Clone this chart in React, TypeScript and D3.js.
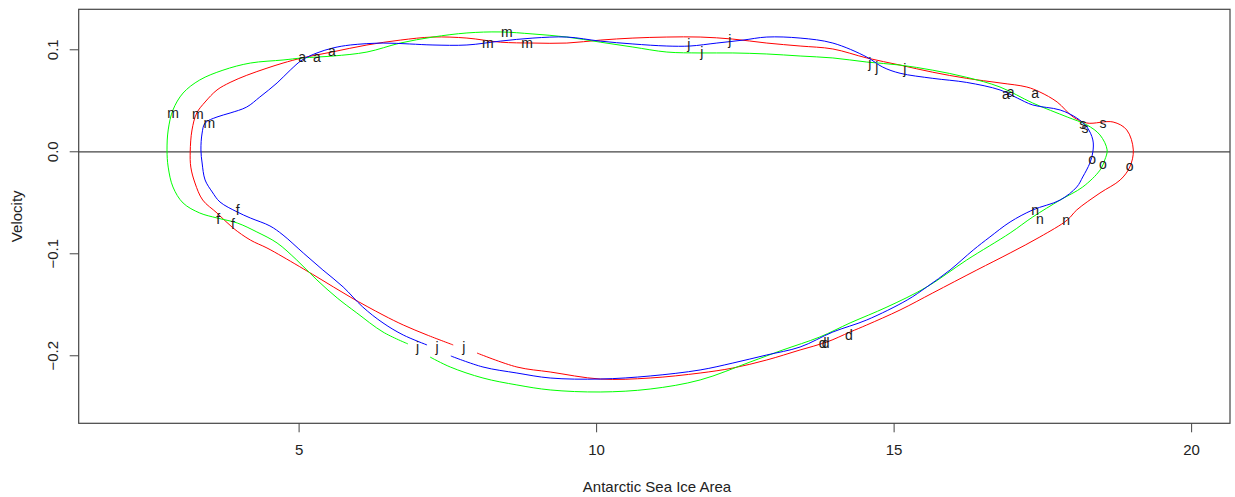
import React from "react";
import * as d3 from "d3";

const months = ["j", "f", "m", "a", "m", "j", "j", "a", "s", "o", "n", "d"];

const xTicks = [5, 10, 15, 20];
const yTicks = [-0.2, -0.1, 0.0, 0.1];

const redArea = [7.59, 7.15, 6.75, 6.41, 5.86, 5.30, 4.73, 4.46, 4.18, 3.89, 3.62, 3.38, 3.25, 3.18, 3.17, 3.20, 3.28, 3.42, 3.62, 3.84, 4.12, 4.46, 4.73, 5.05, 5.55, 6.14, 6.70, 7.25, 7.82, 8.38, 8.93, 9.50, 10.06, 10.61, 11.18, 11.74, 12.29, 12.86, 13.42, 13.97, 14.54, 15.10, 15.65, 16.22, 16.78, 17.23, 17.45, 17.74, 18.01, 18.24, 18.68, 18.91, 19.02, 18.96, 18.80, 18.46, 18.07, 17.91, 17.45, 16.95, 16.39, 15.65, 15.10, 14.54, 14.26, 13.87, 13.42, 12.86, 12.29, 11.74, 10.90, 10.06, 9.22, 8.66, 7.99];
const redVel = [-0.1894, -0.1796, -0.1698, -0.160, -0.1424, -0.1227, -0.1031, -0.0943, -0.0865, -0.0747, -0.060, -0.0473, -0.0306, -0.015, 0.0, 0.0214, 0.038, 0.0488, 0.0606, 0.068, 0.075, 0.082, 0.087, 0.092, 0.0978, 0.1047, 0.1095, 0.1125, 0.1115, 0.1075, 0.1066, 0.1066, 0.1095, 0.1115, 0.1125, 0.1125, 0.1105, 0.1066, 0.1037, 0.1008, 0.092, 0.085, 0.078, 0.072, 0.0675, 0.0635, 0.0586, 0.0488, 0.0341, 0.0282, 0.0292, 0.0214, 0.0018, -0.015, -0.0276, -0.0404, -0.057, -0.0669, -0.0835, -0.0992, -0.1159, -0.1384, -0.1551, -0.1698, -0.1767, -0.1865, -0.1943, -0.2041, -0.2120, -0.2169, -0.2218, -0.2228, -0.2159, -0.2110, -0.1973];

const greenArea = [6.83, 6.41, 5.97, 5.64, 5.30, 4.96, 4.63, 4.29, 3.96, 3.62, 3.33, 3.05, 2.88, 2.80, 2.78, 2.80, 2.88, 3.05, 3.33, 3.72, 4.18, 4.73, 5.05, 5.57, 6.14, 6.70, 7.25, 7.82, 8.38, 8.93, 9.50, 10.06, 10.61, 11.18, 11.74, 12.29, 12.86, 13.42, 13.97, 14.54, 15.10, 15.65, 16.22, 16.78, 17.33, 17.91, 18.24, 18.46, 18.58, 18.54, 18.46, 18.17, 17.79, 17.33, 16.95, 16.22, 15.55, 14.88, 14.26, 13.75, 13.13, 12.58, 11.74, 10.90, 10.06, 9.22, 8.66, 8.09, 7.54, 7.20];
const greenVel = [-0.1884, -0.1767, -0.158, -0.1433, -0.1257, -0.1061, -0.0894, -0.0786, -0.0698, -0.0649, -0.060, -0.0502, -0.0345, -0.015, 0.0018, 0.0214, 0.041, 0.0576, 0.0704, 0.080, 0.087, 0.090, 0.092, 0.0939, 0.0978, 0.1066, 0.1125, 0.1165, 0.1175, 0.1155, 0.1125, 0.1075, 0.1027, 0.0978, 0.0969, 0.0969, 0.0959, 0.0939, 0.092, 0.088, 0.085, 0.080, 0.073, 0.0635, 0.0478, 0.0341, 0.0263, 0.0165, 0.0018, -0.008, -0.018, -0.0345, -0.0473, -0.0639, -0.0796, -0.1061, -0.1325, -0.1522, -0.1678, -0.1816, -0.1943, -0.2061, -0.2237, -0.2326, -0.2355, -0.2335, -0.2286, -0.2218, -0.2110, -0.2012];

const blueArea = [7.15, 6.75, 6.41, 6.07, 5.74, 5.40, 5.07, 4.73, 4.51, 4.18, 3.96, 3.67, 3.54, 3.42, 3.37, 3.35, 3.37, 3.42, 3.62, 3.84, 4.12, 4.34, 4.63, 4.85, 5.05, 5.30, 5.57, 5.86, 6.41, 6.86, 7.25, 7.82, 8.38, 8.93, 9.50, 10.06, 10.61, 11.18, 11.57, 12.02, 12.46, 12.86, 13.42, 13.97, 14.54, 14.81, 15.10, 15.65, 16.22, 16.78, 17.07, 17.33, 17.79, 18.07, 18.24, 18.34, 18.34, 18.29, 18.17, 18.07, 17.79, 17.33, 16.95, 16.61, 16.33, 15.94, 15.55, 15.22, 14.54, 13.97, 13.42, 12.86, 12.29, 11.74, 10.90, 10.06, 9.22, 8.66, 8.09, 7.55];
const blueVel = [-0.1894, -0.1796, -0.1678, -0.1522, -0.1325, -0.1159, -0.0992, -0.0816, -0.0727, -0.0649, -0.059, -0.0492, -0.0394, -0.0276, -0.011, 0.0018, 0.0184, 0.0282, 0.0341, 0.038, 0.0439, 0.0537, 0.0675, 0.080, 0.090, 0.0969, 0.1018, 0.1047, 0.1066, 0.1057, 0.1047, 0.1047, 0.1085, 0.1115, 0.1125, 0.1085, 0.1057, 0.1037, 0.1037, 0.1066, 0.1095, 0.1125, 0.1115, 0.1066, 0.0929, 0.083, 0.077, 0.072, 0.068, 0.0606, 0.0527, 0.0459, 0.041, 0.0331, 0.0243, 0.0116, -0.0002, -0.011, -0.0247, -0.0345, -0.0473, -0.057, -0.0688, -0.0835, -0.0963, -0.1159, -0.1325, -0.1453, -0.1649, -0.1767, -0.1914, -0.1992, -0.2071, -0.2139, -0.2198, -0.2228, -0.2218, -0.2169, -0.2110, -0.2002];

const redLabelArea = [7.77, 3.89, 3.30, 5.55, 8.83, 12.24, 15.18, 17.37, 18.51, 18.96, 17.89, 14.24];
const redLabelVel = [-0.1914, -0.0708, 0.0361, 0.0988, 0.1066, 0.1096, 0.0802, 0.0576, 0.0273, -0.0149, -0.0678, -0.1806];
const greenLabelArea = [6.99, 3.64, 2.88, 5.30, 8.49, 11.77, 14.71, 16.96, 18.21, 18.51, 17.45, 13.85];
const greenLabelVel = [-0.1914, -0.0659, 0.038, 0.092, 0.1165, 0.0969, 0.0822, 0.0586, 0.0233, -0.0129, -0.0659, -0.1875];
const blueLabelArea = [7.32, 3.97, 3.49, 5.05, 8.17, 11.55, 14.59, 16.88, 18.17, 18.33, 17.37, 13.80];
const blueLabelVel = [-0.1914, -0.058, 0.0282, 0.092, 0.1066, 0.1047, 0.087, 0.0557, 0.0263, -0.0071, -0.058, -0.1875];

const FONT = "'Liberation Sans', Arial, sans-serif";

export default function App() {
  const W = 1235;
  const H = 497;
  const left = 78.7;
  const right = 1230;
  const top = 9.3;
  const bottom = 423.3;

  const x = d3.scaleLinear().domain([1.2958, 20.645]).range([left, right]);
  const y = d3.scaleLinear().domain([-0.2662, 0.1397]).range([bottom, top]);

  const line = d3
    .line<[number, number]>()
    .x((d) => x(d[0]))
    .y((d) => y(d[1]))
    .curve(d3.curveCatmullRom.alpha(0.5));

  const series = [
    { color: "#FF0000", a: redArea, v: redVel, la: redLabelArea, lv: redLabelVel },
    { color: "#00FF00", a: greenArea, v: greenVel, la: greenLabelArea, lv: greenLabelVel },
    { color: "#0000FF", a: blueArea, v: blueVel, la: blueLabelArea, lv: blueLabelVel },
  ];

  const axisColor = "#444";

  return (
    <svg
      width={W}
      height={H}
      style={{ position: "absolute", left: 0, top: 0, background: "#fff" }}
      fontFamily={FONT}
    >
      <rect x={0} y={0} width={W} height={H} fill="#fff" />
      {/* zero line */}
      <line x1={left} x2={right} y1={y(0)} y2={y(0)} stroke={axisColor} strokeWidth={1.2} />
      {series.map((s, i) => (
        <path
          key={i}
          d={line(d3.zip(s.a, s.v) as [number, number][]) || ""}
          fill="none"
          stroke={s.color}
          strokeWidth={1}
        />
      ))}
      {series.map((s, i) =>
        d3.zip(s.la, s.lv).map((p, j) => (
          <text
            key={`${i}-${j}`}
            x={x(p[0])}
            y={y(p[1]) + 4.5}
            fontSize={14}
            textAnchor="middle"
            fill="#1a1a1a"
          >
            {months[j]}
          </text>
        ))
      )}
      {/* box */}
      <rect x={left} y={top} width={right - left} height={bottom - top} fill="none" stroke={axisColor} strokeWidth={1.2} />
      {/* x axis */}
      {xTicks.map((t) => (
        <g key={t}>
          <line x1={x(t)} x2={x(t)} y1={bottom} y2={bottom + 9} stroke={axisColor} strokeWidth={1} />
          <text x={x(t)} y={bottom + 32} fontSize={15} textAnchor="middle" fill="#222">
            {t}
          </text>
        </g>
      ))}
      {/* y axis */}
      {yTicks.map((t) => (
        <g key={t}>
          <line x1={left - 9} x2={left} y1={y(t)} y2={y(t)} stroke={axisColor} strokeWidth={1} />
          <text
            transform={`translate(${left - 21},${y(t)}) rotate(-90)`}
            fontSize={15}
            textAnchor="middle"
            fill="#222"
          >
            {d3.format(".1f")(t)}
          </text>
        </g>
      ))}
      <text x={657} y={492} fontSize={15} textAnchor="middle" fill="#222">
        Antarctic Sea Ice Area
      </text>
      <text transform={`translate(22,${(top + bottom) / 2}) rotate(-90)`} fontSize={15} textAnchor="middle" fill="#222">
        Velocity
      </text>
    </svg>
  );
}
